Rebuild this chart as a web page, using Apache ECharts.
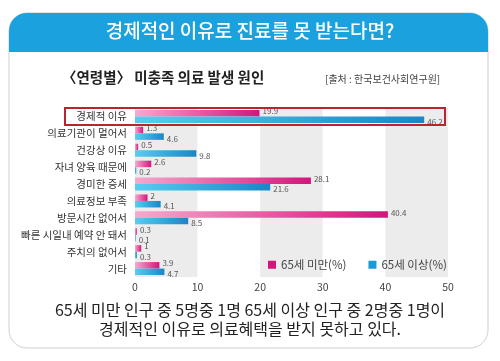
<!DOCTYPE html>
<html><head><meta charset="utf-8">
<script src="https://cdn.jsdelivr.net/npm/echarts@6/dist/echarts.min.js"></script>
<style>html,body{margin:0;padding:0;background:#fff}#c{width:500px;height:361px}</style>
</head><body><div id="c"></div>
<script>
const categories = ['경제적 이유','의료기관이 멀어서','건강상 이유','자녀 양육 때문에','경미한 증세','의료정보 부족','방문시간 없어서','빠른 시일내 예약 안 돼서','주치의 없어서','기타'];
const under65 = [19.9, 1.3, 0.5, 2.6, 28.1, 2, 40.4, 0.3, 1, 3.9];
const over65 = [46.2, 4.6, 9.8, 0.2, 21.6, 4.1, 8.5, 0.1, 0.3, 4.7];
const seriesNames = ['65세 미만(%)', '65세 이상(%)'];
const xTicks = [0, 10, 20, 30, 40, 50];
const title = '경제적인 이유로 진료를 못 받는다면?';
const subtitle = '〈연령별〉 미충족 의료 발생 원인';
const source = '[출처 : 한국보건사회연구원]';
const note1 = '65세 미만 인구 중 5명중 1명 65세 이상 인구 중 2명중 1명이';
const note2 = '경제적인 이유로 의료혜택을 받지 못하고 있다.';

const FONT = '"Noto Sans CJK KR", "Noto Sans", sans-serif';
const chart = echarts.init(document.getElementById('c'), null, {renderer:'canvas'});
const pinkGrad = new echarts.graphic.LinearGradient(0,0,1,0,[{offset:0,color:'#f6a9cd'},{offset:1,color:'#d4157c'}]);
const blueGrad = new echarts.graphic.LinearGradient(0,0,1,0,[{offset:0,color:'#58cdf0'},{offset:1,color:'#1a86c6'}]);

const option = {
  animation:false,
  textStyle:{fontFamily:FONT},
  graphic:[
    {type:'rect', z:-10, shape:{x:9,y:13,width:479,height:335,r:18}, style:{fill:'#fff',stroke:'#cfcfcf',lineWidth:1}},
    {type:'rect', z:-9, shape:{x:9,y:13,width:479,height:39,r:[18,18,0,0]}, style:{fill:'#1ba1dd'}},
    {type:'text', z:10, left:'center', top:21, style:{text:title, fill:'#fff', font:'500 19px '+FONT}},
    {type:'text', z:10, left:62, top:70, style:{text:subtitle, fill:'#222', font:'bold 14.5px '+FONT}},
    {type:'text', z:10, left:325, top:74, style:{text:source, fill:'#444', font:'10px '+FONT}},
    {type:'text', z:10, left:'center', top:302, style:{text:note1, fill:'#222', font:'16px '+FONT}},
    {type:'text', z:10, left:'center', top:321, style:{text:note2, fill:'#222', font:'16px '+FONT}}
  ],
  legend:{
    left:263, top:254, itemWidth:8, itemHeight:8, itemGap:22, icon:'rect',
    textStyle:{fontSize:11.5, color:'#444', fontFamily:FONT}
  },
  grid:{left:135, right:52, top:108, bottom:84},
  xAxis:{
    type:'value', min:xTicks[0], max:xTicks[xTicks.length-1], interval:10,
    axisLine:{show:false}, axisTick:{show:false}, splitLine:{show:false},
    splitArea:{show:true, areaStyle:{color:['#ececec','#ffffff']}},
    axisLabel:{fontSize:10.5, color:'#444', margin:5}
  },
  yAxis:{
    type:'category', data:categories, inverse:true,
    axisLine:{show:false}, axisTick:{show:false},
    axisLabel:{fontSize:10.5, color:'#333', margin:8}
  },
  series:[
    {name:seriesNames[0], type:'bar', data:under65, barWidth:6.5, barGap:'0%',
     itemStyle:{color:pinkGrad},
     label:{show:true, position:'right', distance:3, offset:[0,-2], fontSize:8, color:'#555'}},
    {name:seriesNames[1], type:'bar', data:over65, barWidth:6.5, barGap:'0%',
     itemStyle:{color:blueGrad},
     label:{show:true, position:'right', distance:3, offset:[0,2], fontSize:8, color:'#555'}}
  ]
};
option.legend.data = [{name:seriesNames[0], itemStyle:{color:'#d4157c'}},{name:seriesNames[1], itemStyle:{color:'#1a9ad6'}}];
chart.setOption(option);

// highlight box around the first category, positioned from the axis scale
const y0 = chart.convertToPixel({yAxisIndex:0}, categories[0]);
const y1 = chart.convertToPixel({yAxisIndex:0}, categories[1]);
const band = Math.abs(y1 - y0);
const g = option.graphic.slice();
g.push({type:'rect', z:20, shape:{x:65, y:y0 - band/2, width:380, height:band}, style:{fill:'none', stroke:'#b8262c', lineWidth:2}});
chart.setOption({graphic:g});
</script></body></html>
